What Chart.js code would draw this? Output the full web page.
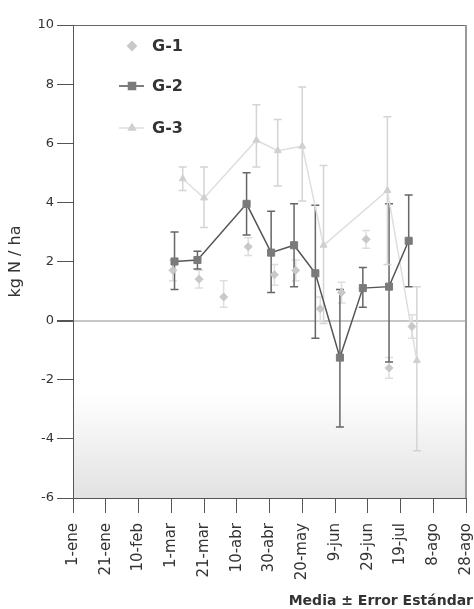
<!DOCTYPE html>
<html>
<head>
    <meta http-equiv="Content-Type" content="text/html; charset=UTF-8">
    <title>kg N / ha</title>
    <script src="https://cdn.jsdelivr.net/npm/chart.js@4.4.0/dist/chart.umd.min.js"></script>
    <style>
        body { margin: 0; background: #fff; }
        #wrap { width: 474px; height: 609px; }
    </style>
</head>
<body>
<div id="wrap">
    <canvas id="myChart" width="474" height="609"></canvas>
</div>
<script>
    // x = days since 1-ene
    var tickLabels = ['1-ene', '21-ene', '10-feb', '1-mar', '21-mar', '10-abr', '30-abr',
        '20-may', '9-jun', '29-jun', '19-jul', '8-ago', '28-ago'];

    var g1Days = [61, 77, 92, 107, 123, 136, 151, 164, 179, 193, 207];
    var g1Mean = [1.7, 1.4, 0.8, 2.5, 1.55, 1.7, 0.4, 0.95, 2.75, -1.6, -0.2];
    var g1Low = [1.35, 1.1, 0.45, 2.2, 1.2, 1.35, 0.0, 0.6, 2.45, -1.95, -0.6];
    var g1High = [2.05, 1.7, 1.35, 2.8, 1.9, 2.05, 0.8, 1.3, 3.05, -1.25, 0.2];

    var g2Days = [62, 76, 106, 121, 135, 148, 163, 177, 193, 205];
    var g2Mean = [2.0, 2.05, 3.95, 2.3, 2.55, 1.6, -1.25, 1.1, 1.15, 2.7];
    var g2Low = [1.05, 1.75, 2.9, 0.95, 1.15, -0.6, -3.6, 0.45, -1.4, 1.15];
    var g2High = [3.0, 2.35, 5.0, 3.7, 3.95, 3.9, 1.05, 1.8, 3.95, 4.25];

    var g3Days = [67, 80, 112, 125, 140, 153, 192, 210];
    var g3Mean = [4.8, 4.15, 6.1, 5.75, 5.9, 2.55, 4.4, -1.35];
    var g3Low = [4.4, 3.15, 5.2, 4.55, 4.05, -0.1, 1.9, -4.4];
    var g3High = [5.2, 5.2, 7.3, 6.8, 7.9, 5.25, 6.9, 1.15];

    function points(days, vals) {
        return days.map(function (d, i) { return {x: d, y: vals[i]}; });
    }

    var series = [
        {label: 'G-1', days: g1Days, mean: g1Mean, low: g1Low, high: g1High,
            style: 'rectRot', radius: 4, fill: '#c8c8c8', line: 'rgba(0,0,0,0.05)', bar: '#dedede', showLine: false},
        {label: 'G-2', days: g2Days, mean: g2Mean, low: g2Low, high: g2High,
            style: 'rect', radius: 5, fill: '#7a7a7a', line: '#555', bar: '#666', showLine: true},
        {label: 'G-3', days: g3Days, mean: g3Mean, low: g3Low, high: g3High,
            style: 'triangle', radius: 4, fill: '#d0d0d0', line: '#dedede', bar: '#d4d4d4', showLine: true}
    ];

    var extras = {
        id: 'extras',
        beforeDatasetsDraw: function (chart) {
            var ctx = chart.ctx, a = chart.chartArea;
            var xs = chart.scales.x, ys = chart.scales.y;
            // scan shading near the bottom
            ctx.save();
            var grd = ctx.createLinearGradient(0, a.bottom - 105, 0, a.bottom);
            grd.addColorStop(0, 'rgba(190,190,190,0)');
            grd.addColorStop(1, 'rgba(190,190,190,0.45)');
            ctx.fillStyle = grd;
            ctx.fillRect(a.left + 1, a.bottom - 105, a.right - a.left - 2, 105);
            // error bars
            series.forEach(function (s) {
                ctx.strokeStyle = s.bar;
                ctx.lineWidth = 1.5;
                s.days.forEach(function (d, i) {
                    var px = xs.getPixelForValue(d);
                    var top = ys.getPixelForValue(s.high[i]);
                    var bot = ys.getPixelForValue(s.low[i]);
                    ctx.beginPath();
                    ctx.moveTo(px, top); ctx.lineTo(px, bot);
                    ctx.moveTo(px - 4, top); ctx.lineTo(px + 4, top);
                    ctx.moveTo(px - 4, bot); ctx.lineTo(px + 4, bot);
                    ctx.stroke();
                });
            });
            ctx.restore();
        },
        afterDraw: function (chart) {
            var ctx = chart.ctx, a = chart.chartArea;
            ctx.save();
            // frame top + right
            ctx.strokeStyle = '#666';
            ctx.lineWidth = 1;
            ctx.beginPath();
            ctx.moveTo(a.left, a.top + 0.5); ctx.lineTo(a.right, a.top + 0.5);
            ctx.stroke();
            ctx.strokeStyle = '#999';
            ctx.lineWidth = 2;
            ctx.beginPath();
            ctx.moveTo(a.right, a.top); ctx.lineTo(a.right, a.bottom);
            ctx.stroke();

            // legend
            var rows = [46, 86, 128];
            series.forEach(function (s, i) {
                var y = rows[i];
                if (s.showLine) {
                    ctx.strokeStyle = s.line;
                    ctx.lineWidth = 1.5;
                    ctx.beginPath();
                    ctx.moveTo(119, y); ctx.lineTo(144, y);
                    ctx.stroke();
                }
                ctx.fillStyle = s.fill;
                ctx.strokeStyle = s.fill;
                Chart.helpers.drawPoint(ctx, {pointStyle: s.style, radius: s.radius, rotation: 0, borderWidth: 1}, 132, y);
                ctx.fillStyle = '#333';
                ctx.font = 'bold 16px "DejaVu Sans"';
                ctx.textAlign = 'left';
                ctx.textBaseline = 'middle';
                ctx.fillText(s.label, 152, y + 1);
            });

            ctx.fillStyle = '#333';
            ctx.font = 'bold 14px "DejaVu Sans"';
            ctx.textAlign = 'right';
            ctx.textBaseline = 'middle';
            ctx.fillText('Media \u00b1 Error Est\u00e1ndar', 473, 601);
            ctx.restore();
        }
    };

    var ctx = document.getElementById('myChart').getContext('2d');
    var chart = new Chart(ctx, {
        type: 'scatter',
        data: {
            datasets: series.map(function (s) {
                return {
                    label: s.label,
                    data: points(s.days, s.mean),
                    showLine: s.showLine,
                    borderColor: s.line,
                    borderWidth: 1.5,
                    pointStyle: s.style,
                    pointRadius: s.radius,
                    pointBackgroundColor: s.fill,
                    pointBorderColor: s.fill,
                    pointBorderWidth: 1,
                    tension: 0
                };
            })
        },
        options: {
            responsive: false,
            devicePixelRatio: 1,
            animation: false,
            layout: {padding: {top: 25, right: 8, left: 0, bottom: 0}},
            plugins: {
                legend: {display: false},
                tooltip: {enabled: false}
            },
            scales: {
                x: {
                    type: 'linear',
                    min: 0,
                    max: 240,
                    afterFit: function (s) {
                        s.height = 111;
                        s.paddingLeft = 0;
                        s.paddingRight = 0;
                    },
                    border: {color: '#555', width: 1},
                    grid: {drawOnChartArea: false, tickLength: 15, tickColor: '#555'},
                    ticks: {
                        stepSize: 20,
                        autoSkip: false,
                        minRotation: 90,
                        maxRotation: 90,
                        padding: 10,
                        color: '#333',
                        font: {family: 'DejaVu Sans', size: 15},
                        callback: function (v) { return tickLabels[v / 20]; }
                    }
                },
                y: {
                    min: -6,
                    max: 10,
                    afterFit: function (s) {
                        s.width = 73;
                        s.paddingTop = 0;
                        s.paddingBottom = 0;
                    },
                    border: {color: '#555', width: 1},
                    grid: {
                        color: function (c) { return c.tick && c.tick.value === 0 ? '#c6c6c6' : 'rgba(0,0,0,0)'; },
                        lineWidth: function (c) { return c.tick && c.tick.value === 0 ? 2 : 1; },
                        tickColor: '#555',
                        tickLength: 16
                    },
                    ticks: {
                        stepSize: 2,
                        padding: 3,
                        color: '#333',
                        font: {family: 'DejaVu Sans', size: 13}
                    },
                    title: {
                        display: true,
                        text: 'kg N / ha',
                        color: '#333',
                        font: {family: 'DejaVu Sans', size: 16},
                        padding: {top: 6, bottom: 0}
                    }
                }
            }
        },
        plugins: [extras]
    });
</script>
</body>
</html>
